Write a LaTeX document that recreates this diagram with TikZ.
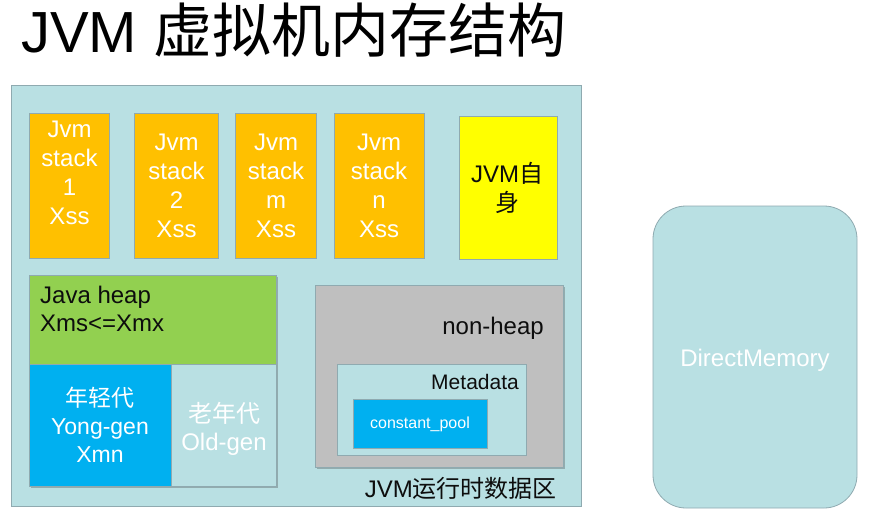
\documentclass[tikz,border=0pt]{standalone}
\usepackage{fontspec}
\setmainfont{Liberation Sans}
\newfontfamily\cjk{Noto Sans CJK SC}
\usetikzlibrary{shadows}
\definecolor{regionfill}{HTML}{B9E0E3}
\definecolor{regionline}{HTML}{8FAAB0}
\definecolor{stackorange}{HTML}{FFC000}
\definecolor{selfyellow}{HTML}{FFFF00}
\definecolor{heapgreen}{HTML}{92D050}
\definecolor{youngblue}{HTML}{00B0F0}
\definecolor{nonheapgray}{HTML}{BFBFBF}
\definecolor{textdark}{HTML}{0D0D0D}
\begin{document}
\begin{tikzpicture}[x=1pt,y=-1pt,
  box/.style={draw=regionline, line width=0.8pt, anchor=north west, inner sep=0pt, outer sep=0pt},
  shad/.style={drop shadow={shadow xshift=1.5pt, shadow yshift=-2pt, opacity=0.35, fill=black!70}},
  txt/.style={inner sep=0pt, font=\fontsize{24}{29}\selectfont},
  wtxt/.style={txt, text=white, align=center},
  dtxt/.style={txt, text=textdark}
]
\useasboundingbox (0,0) rectangle (894,514);
% title
\node[inner sep=0pt, anchor=base west, font=\fontsize{58}{60}\selectfont] (title) at (21,52) {JVM {\cjk\fontsize{59}{60}\selectfont 虚拟机内存结构}};
% runtime data area
\node[box, fill=regionfill, minimum width=570, minimum height=421] (area) at (11,85) {};
% stacks
\node[box, fill=stackorange, minimum width=80, minimum height=145] (s1) at (29.5,113) {};
\node[box, fill=stackorange, minimum width=84, minimum height=145] (s2) at (134.5,113) {};
\node[box, fill=stackorange, minimum width=81, minimum height=145] (sm) at (235.5,113) {};
\node[box, fill=stackorange, minimum width=90.5, minimum height=145] (sn) at (334,113) {};
\node[box, fill=selfyellow, minimum width=98, minimum height=143] (self) at (459,116) {};
\node[wtxt] (s1t) at (69.5,172.5) {Jvm\\stack\\1\\Xss};
\node[wtxt] (s2t) at (176.5,185.5) {Jvm\\stack\\2\\Xss};
\node[wtxt] (smt) at (276,185.5) {Jvm\\stack\\m\\Xss};
\node[wtxt] (snt) at (379,185.5) {Jvm\\stack\\n\\Xss};
\node[dtxt, align=center] (selft) at (507,188) {JVM{\cjk 自}\\{\cjk 身}};
% java heap
\node[box, shad, fill=heapgreen, minimum width=246.5, minimum height=89] (heap) at (29.5,275) {};
\node[box, shad, fill=youngblue, minimum width=142, minimum height=122] (young) at (29.5,364) {};
\node[box, shad, fill=regionfill, minimum width=104.5, minimum height=122] (old) at (171.5,364) {};
\node[dtxt, align=left, anchor=west, font=\fontsize{24}{28}\selectfont] (heapt) at (40,309) {Java heap\\Xms<=Xmx};
\node[wtxt, font=\fontsize{23}{28}\selectfont] (youngt) at (100,425) {{\cjk 年轻代}\\Yong-gen\\Xmn};
\node[wtxt, font=\fontsize{24}{28}\selectfont] (oldt) at (224,428.5) {{\cjk 老年代}\\Old-gen};
% non-heap
\node[box, shad, fill=nonheapgray, minimum width=248, minimum height=182] (nonheap) at (315.5,285) {};
\node[dtxt, anchor=base east] (nonheapt) at (544,334) {non-heap};
\node[box, fill=regionfill, minimum width=189, minimum height=91] (meta) at (337.5,364) {};
\node[dtxt, anchor=base east, font=\fontsize{21}{24}\selectfont] (metat) at (519,389.5) {Metadata};
\node[box, fill=youngblue, minimum width=134, minimum height=49] (pool) at (353,399) {};
\node[txt, text=white, anchor=base, font=\fontsize{16}{19}\selectfont] (poolt) at (420,428.5) {constant\_pool};
\node[dtxt, anchor=base east] (areat) at (557,497) {JVM{\cjk 运行时数据区}};
% direct memory
\node[box, fill=regionfill, rounded corners=33pt, minimum width=204, minimum height=302] (direct) at (653,206) {};
\node[txt, text=white, anchor=base] (directt) at (755,366.5) {DirectMemory};
\end{tikzpicture}
\end{document}
